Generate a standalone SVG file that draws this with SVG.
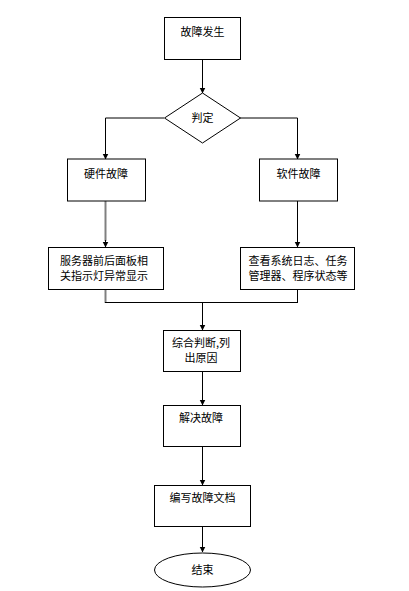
<svg xmlns="http://www.w3.org/2000/svg" width="409" height="591" viewBox="0 0 409 591">
<defs>
<marker id="arr" markerWidth="6" markerHeight="7" refX="5.5" refY="3.5" orient="auto" markerUnits="userSpaceOnUse">
<path d="M0,0.5 L6,3.5 L0,6.5 Z" fill="#000"/>
</marker>
<style>
.box{fill:#fff;stroke:#000;stroke-width:1}
.t{font-family:"Noto Sans CJK SC","Liberation Sans",sans-serif;font-size:11px;fill:#000;text-anchor:middle}
.c{fill:none;stroke:#000;stroke-width:1}
.g{fill:none;stroke:#808080;stroke-width:2}
</style>
</defs>
<rect width="409" height="591" fill="#fff"/>
<g id="connectors">
<line class="c" x1="202.5" y1="59" x2="202.5" y2="93" marker-end="url(#arr)"/>
<polyline class="c" points="164,118 105.5,118 105.5,159" marker-end="url(#arr)"/>
<polyline class="c" points="240,118 297.5,118 297.5,159" marker-end="url(#arr)"/>
<line class="g" x1="105.5" y1="201" x2="105.5" y2="241"/>
<line class="c" x1="105.5" y1="240" x2="105.5" y2="247" marker-end="url(#arr)"/>
<line class="c" x1="297.5" y1="201" x2="297.5" y2="247" marker-end="url(#arr)"/>
<line class="g" x1="105.5" y1="289" x2="105.5" y2="303"/>
<line class="c" x1="297.5" y1="289" x2="297.5" y2="303"/>
<line class="c" x1="105" y1="302.5" x2="298" y2="302.5"/>
<line class="c" x1="202.5" y1="302.5" x2="202.5" y2="330" marker-end="url(#arr)"/>
<line class="c" x1="202.5" y1="372" x2="202.5" y2="405" marker-end="url(#arr)"/>
<line class="c" x1="202.5" y1="447" x2="202.5" y2="485" marker-end="url(#arr)"/>
<line class="c" x1="202.5" y1="527" x2="202.5" y2="552" marker-end="url(#arr)"/>
</g>
<g id="n1">
<rect class="box" x="164.5" y="17.5" width="76" height="42"/>
<text class="t" x="202.5" y="36">故障发生</text>
</g>
<g id="n2">
<polygon class="box" points="202.5,93 240.5,118 202.5,143 164.5,118"/>
<text class="t" x="202.5" y="122">判定</text>
</g>
<g id="n3">
<rect class="box" x="67.5" y="159" width="78" height="42"/>
<text class="t" x="106" y="178">硬件故障</text>
</g>
<g id="n4">
<rect class="box" x="259.5" y="159" width="78" height="42"/>
<text class="t" x="298.5" y="178">软件故障</text>
</g>
<g id="n5">
<rect class="box" x="48.5" y="247.5" width="115" height="42"/>
<text class="t" x="104" y="265">服务器前后面板相</text>
<text class="t" x="104" y="280">关指示灯异常显示</text>
</g>
<g id="n6">
<rect class="box" x="240.5" y="247.5" width="114" height="42"/>
<text class="t" x="298" y="265">查看系统日志、任务</text>
<text class="t" x="298" y="280">管理器、程序状态等</text>
</g>
<g id="n7">
<rect class="box" x="163.5" y="330.5" width="77" height="41"/>
<text class="t" x="201" y="347">综合判断,列</text>
<text class="t" x="201" y="362">出原因</text>
</g>
<g id="n8">
<rect class="box" x="163.5" y="405.5" width="77" height="41"/>
<text class="t" x="201" y="422">解决故障</text>
</g>
<g id="n9">
<rect class="box" x="154.5" y="485.5" width="96" height="41"/>
<text class="t" x="202.5" y="502">编写故障文档</text>
</g>
<g id="n10">
<ellipse class="box" cx="202.5" cy="570" rx="48" ry="17"/>
<text class="t" x="202.5" y="574">结束</text>
</g>
</svg>
